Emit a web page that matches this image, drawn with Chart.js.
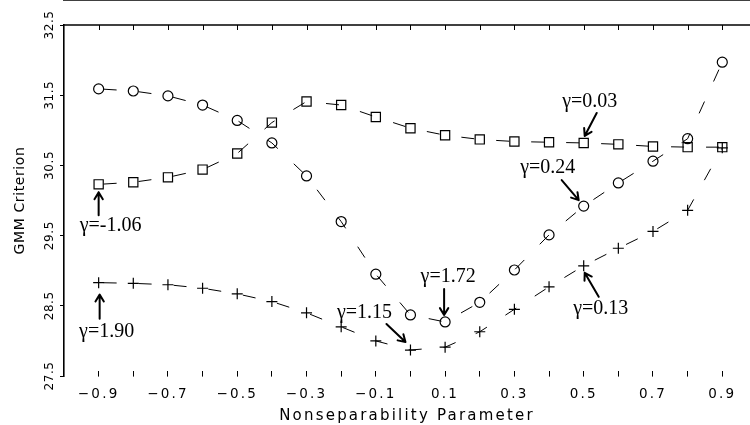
<!DOCTYPE html>
<html>
<head>
<meta charset="utf-8">
<script src="https://cdn.jsdelivr.net/npm/chart.js@4.4.1/dist/chart.umd.min.js"></script>
<style>
  html, body { margin: 0; padding: 0; background: #fff; overflow: hidden; }
  #c { display: block; }
</style>
</head>
<body>
<canvas id="c" width="750" height="425"></canvas>
<script>
// data
const xValues = [-0.9, -0.8, -0.7, -0.6, -0.5, -0.4, -0.3, -0.2, -0.1, 0.0, 0.1, 0.2, 0.3, 0.4, 0.5, 0.6, 0.7, 0.8, 0.9];
const circleVals = [31.59, 31.56, 31.49, 31.36, 31.14, 30.82, 30.35, 29.70, 28.95, 28.37, 28.27, 28.55, 29.01, 29.51, 29.92, 30.25, 30.56, 30.88, 31.97];
const squareVals = [30.23, 30.26, 30.33, 30.44, 30.67, 31.11, 31.41, 31.36, 31.19, 31.03, 30.93, 30.87, 30.84, 30.83, 30.82, 30.80, 30.77, 30.76, 30.76];
const plusVals = [28.83, 28.82, 28.80, 28.75, 28.67, 28.56, 28.40, 28.20, 28.00, 27.87, 27.91, 28.13, 28.45, 28.77, 29.07, 29.32, 29.56, 29.86, 30.75];

const xTicks = [-0.9, -0.8, -0.7, -0.6, -0.5, -0.4, -0.3, -0.2, -0.1, 0.0, 0.1, 0.2, 0.3, 0.4, 0.5, 0.6, 0.7, 0.8, 0.9];
const xTickLabels = ['\u22120.9', '', '\u22120.7', '', '\u22120.5', '', '\u22120.3', '', '\u22120.1', '', '0.1', '', '0.3', '', '0.5', '', '0.7', '', '0.9'];
const yTicks = [27.5, 28.5, 29.5, 30.5, 31.5, 32.5];
const yTickLabels = ['27.5', '28.5', '29.5', '30.5', '31.5', '32.5'];

// gamma notes: dataset, point index, offsets from that point (px)
const notes = [
  { text: '\u03b3=-1.06', ds: 1, i: 0,  tx: 12,  ty: 41,  ax: 0,   ay: 31,  bx: 0,  by: 8 },
  { text: '\u03b3=1.90',  ds: 2, i: 0,  tx: 8,   ty: 49,  ax: 1,   ay: 36,  bx: 1,  by: 12 },
  { text: '\u03b3=1.15',  ds: 2, i: 9,  tx: -46, ty: -37, ax: -24, ay: -26, bx: -5, by: -8 },
  { text: '\u03b3=1.72',  ds: 0, i: 10, tx: 3,   ty: -45, ax: -1,  ay: -33, bx: -1, by: -7 },
  { text: '\u03b3=0.03',  ds: 1, i: 14, tx: 6,   ty: -41, ax: 13,  ay: -30, bx: 1,  by: -7 },
  { text: '\u03b3=0.24',  ds: 0, i: 14, tx: -36, ty: -38, ax: -22, ay: -26, bx: -5, by: -6 },
  { text: '\u03b3=0.13',  ds: 2, i: 14, tx: 17,  ty: 43,  ax: 15,  ay: 31,  bx: 1,  by: 7 }
];

function pts(vals) {
  return xValues.map((x, i) => ({ x: x, y: vals[i] }));
}

function drawArrow(ctx, x1, y1, x2, y2) {
  const a = Math.atan2(y2 - y1, x2 - x1);
  const h = 8;
  ctx.beginPath();
  ctx.moveTo(x1, y1);
  ctx.lineTo(x2, y2);
  ctx.moveTo(x2 - h * Math.cos(a - 0.55), y2 - h * Math.sin(a - 0.55));
  ctx.lineTo(x2, y2);
  ctx.lineTo(x2 - h * Math.cos(a + 0.55), y2 - h * Math.sin(a + 0.55));
  ctx.stroke();
}

const styling = {
  id: 'styling',
  beforeDraw(chart) {
    chart.ctx.letterSpacing = '0.6px';
  },
  afterDatasetsDraw(chart) {
    // x axis labels and title are drawn after this (z = 1)
    chart.ctx.letterSpacing = '2.2px';
  },
  afterDraw(chart) {
    const ctx = chart.ctx;
    const xs = chart.scales.x;
    const ys = chart.scales.y;
    ctx.save();
    ctx.letterSpacing = '0px';
    // top frame line with inward ticks
    const top = Math.round(ys.getPixelForValue(yTicks[yTicks.length - 1]));
    ctx.strokeStyle = '#000';
    ctx.lineWidth = 1.6;
    ctx.beginPath();
    ctx.moveTo(xs.left, top);
    ctx.lineTo(xs.right, top);
    ctx.stroke();
    ctx.lineWidth = 1;
    ctx.beginPath();
    xTicks.forEach(v => {
      const px = Math.round(xs.getPixelForValue(v)) + 0.5;
      ctx.moveTo(px, top);
      ctx.lineTo(px, top + 5);
    });
    ctx.stroke();

    ctx.fillStyle = '#000';
    ctx.lineWidth = 2;
    ctx.lineCap = 'round';
    ctx.lineJoin = 'round';
    ctx.font = '20px "Liberation Serif"';
    ctx.textAlign = 'center';
    ctx.textBaseline = 'middle';
    notes.forEach(n => {
      const p = chart.getDatasetMeta(n.ds).data[n.i];
      ctx.fillText(n.text, p.x + n.tx, p.y + n.ty);
      drawArrow(ctx, p.x + n.ax, p.y + n.ay, p.x + n.bx, p.y + n.by);
    });
    ctx.restore();
  }
};

const lineStyle = {
  showLine: true,
  borderColor: '#000',
  borderWidth: 1,
  borderDash: [13, 22],
  borderDashOffset: -5,
  tension: 0,
  pointBorderColor: '#000',
  pointBackgroundColor: 'rgba(0,0,0,0)',
  pointBorderWidth: 1.2,
  fill: false
};

Chart.defaults.font.family = '"DejaVu Sans"';
Chart.defaults.color = '#000';

new Chart(document.getElementById('c'), {
  type: 'scatter',
  data: {
    datasets: [
      Object.assign({ label: 'circle', data: pts(circleVals), pointStyle: 'circle', pointRadius: 5 }, lineStyle),
      Object.assign({ label: 'square', data: pts(squareVals), pointStyle: 'rect', pointRadius: 6.5 }, lineStyle),
      Object.assign({ label: 'plus', data: pts(plusVals), pointStyle: 'cross', pointRadius: 5.5 }, lineStyle)
    ]
  },
  options: {
    responsive: false,
    animation: false,
    devicePixelRatio: 1,
    layout: { autoPadding: false, padding: { left: 0, top: 25, right: 0, bottom: 0 } },
    plugins: { legend: { display: false }, tooltip: { enabled: false } },
    scales: {
      x: {
        type: 'linear',
        position: 'bottom',
        min: -1.0,
        max: 0.98,
        afterBuildTicks: s => { s.ticks = xTicks.map(v => ({ value: v })); },
        afterFit: s => { s.height = 49; },
        ticks: {
          z: 1,
          autoSkip: false,
          maxRotation: 0,
          padding: 15,
          font: { size: 13.5 },
          callback: (v, i) => xTickLabels[i]
        },
        grid: { z: 1, drawOnChartArea: false, tickLength: -5, color: '#000', lineWidth: 1 },
        border: { color: '#000', width: 1.6 },
        title: {
          display: true,
          text: 'Nonseparability Parameter',
          font: { size: 15 },
          padding: { top: 0, bottom: 0 }
        }
      },
      y: {
        type: 'linear',
        position: 'left',
        min: 27.5,
        max: 32.5,
        afterBuildTicks: s => { s.ticks = yTicks.map(v => ({ value: v })); },
        afterFit: s => { s.width = 64; },
        ticks: {
          minRotation: 90,
          maxRotation: 90,
          crossAlign: 'center',
          padding: -3,
          font: { size: 12 },
          callback: (v, i) => yTickLabels[i]
        },
        grid: { drawOnChartArea: false, tickLength: 4, color: '#000', lineWidth: 1 },
        border: { color: '#000', width: 1.6 },
        title: {
          display: true,
          text: 'GMM Criterion',
          font: { size: 14 },
          padding: { top: 12, bottom: 0 }
        }
      }
    }
  },
  plugins: [styling]
});
</script>
</body>
</html>
